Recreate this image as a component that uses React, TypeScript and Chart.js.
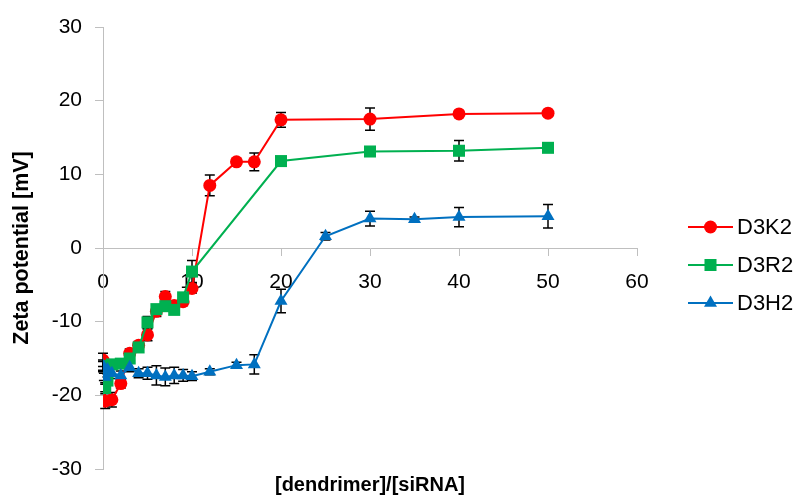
import React, { useEffect, useRef } from "react";
import { Chart, registerables } from "chart.js";

Chart.register(...registerables);

const seriesNames = ["D3K2", "D3R2", "D3H2"];
const seriesColors = ["#ff0000", "#00b050", "#0070c0"];
const seriesMarkers = ["circle", "rect", "triangle"];
const seriesRadius = [6.5, 8.5, 7.5];

const k2X = [0, 0.25, 1, 2, 3, 4, 5, 6, 7, 8, 9, 10, 12, 15, 17, 20, 30, 40, 50];
const k2Y = [-15.2, -20.8, -20.6, -18.4, -14.3, -13.2, -11.8, -8.6, -6.6, -7.8, -7.3, -5.5, 8.5, 11.7, 11.7, 17.4, 17.5, 18.2, 18.3];
const k2Err = [0.9, 1.0, 1.0, 0.6, 0.6, 0.5, 0.8, 0.7, 0.7, 0.5, 0.5, 0.6, 1.4, 0.3, 1.2, 1.0, 1.5, 0.4, 0.3];

const r2X = [0, 0.1, 0.25, 0.5, 1, 2, 3, 4, 5, 6, 7, 8, 9, 10, 20, 30, 40, 50];
const r2Y = [-16.0, -17.5, -19.0, -18.0, -15.8, -15.7, -15.0, -13.5, -10.1, -8.3, -7.9, -8.4, -6.7, -3.2, 11.8, 13.1, 13.2, 13.6];
const r2Err = [0.6, 0.5, 0.5, 0.5, 0.5, 0.6, 0.5, 0.6, 0.8, 0.6, 0.6, 0.5, 0.6, 1.5, 0.5, 0.4, 1.4, 0.3];

const h2X = [0, 0.25, 0.5, 1, 2, 3, 4, 5, 6, 7, 8, 9, 10, 12, 15, 17, 20, 25, 30, 35, 40, 50];
const h2Y = [-16.0, -17.5, -16.5, -17.0, -17.3, -16.2, -17.0, -17.0, -17.3, -17.5, -17.3, -17.3, -17.4, -16.8, -15.9, -15.8, -7.2, 1.6, 4.0, 3.9, 4.2, 4.3];
const h2Err = [0.8, 0.8, 0.6, 0.7, 0.6, 0.6, 0.6, 0.8, 1.3, 1.2, 1.1, 0.8, 0.6, 0.4, 0.4, 1.3, 1.6, 0.5, 1.0, 0.3, 1.3, 1.6];

const xTickValues = [0, 10, 20, 30, 40, 50, 60];
const yTickValues = [-30, -20, -10, 0, 10, 20, 30];

const xTitle = "[dendrimer]/[siRNA]";
const yTitle = "Zeta potential [mV]";

const FONT = "'Liberation Sans', Arial, sans-serif";

function drawMarker(ctx: CanvasRenderingContext2D, style: string, x: number, y: number, r: number, color: string) {
  ctx.fillStyle = color;
  ctx.beginPath();
  if (style === "circle") {
    ctx.arc(x, y, r, 0, Math.PI * 2);
  } else if (style === "rect") {
    const s = r * Math.SQRT1_2;
    ctx.rect(x - s, y - s, 2 * s, 2 * s);
  } else {
    const a = (Math.PI * 2) / 3;
    ctx.moveTo(x, y - r);
    ctx.lineTo(x + Math.sin(a) * r, y - Math.cos(a) * r);
    ctx.lineTo(x + Math.sin(2 * a) * r, y - Math.cos(2 * a) * r);
    ctx.closePath();
  }
  ctx.fill();
}

const errorBarPlugin = {
  id: "errorBars",
  beforeDatasetsDraw(chart: any) {
    const { ctx } = chart;
    const x = chart.scales.x;
    const y = chart.scales.y;
    ctx.save();
    ctx.strokeStyle = "#000";
    ctx.lineWidth = 1.5;
    chart.data.datasets.forEach((ds: any) => {
      ds.data.forEach((p: any, i: number) => {
        const e = ds.errors[i];
        const px = x.getPixelForValue(p.x);
        const top = y.getPixelForValue(p.y + e);
        const bot = y.getPixelForValue(p.y - e);
        ctx.beginPath();
        ctx.moveTo(px, top);
        ctx.lineTo(px, bot);
        ctx.moveTo(px - 5, top);
        ctx.lineTo(px + 5, top);
        ctx.moveTo(px - 5, bot);
        ctx.lineTo(px + 5, bot);
        ctx.stroke();
      });
    });
    ctx.restore();
  },
};

const legendPlugin = {
  id: "customLegend",
  afterDraw(chart: any) {
    const { ctx, chartArea } = chart;
    const x0 = chartArea.right + 51;
    const lineLen = 45;
    const yCenter = 265;
    const gap = 38;
    ctx.save();
    seriesNames.forEach((name, i) => {
      const yy = yCenter + (i - 1) * gap;
      ctx.strokeStyle = seriesColors[i];
      ctx.lineWidth = 2;
      ctx.beginPath();
      ctx.moveTo(x0, yy);
      ctx.lineTo(x0 + lineLen, yy);
      ctx.stroke();
      drawMarker(ctx, seriesMarkers[i], x0 + lineLen / 2, yy, seriesRadius[i], seriesColors[i]);
      ctx.fillStyle = "#000";
      ctx.font = `22px ${FONT}`;
      ctx.textBaseline = "middle";
      ctx.textAlign = "left";
      ctx.fillText(name, x0 + lineLen + 4, yy + 1);
    });
    ctx.restore();
  },
};

function makeData(xs: number[], ys: number[]) {
  return xs.map((v, i) => ({ x: v, y: ys[i] }));
}

export default function App() {
  const canvasRef = useRef<HTMLCanvasElement | null>(null);

  useEffect(() => {
    document.body.style.margin = "0";
    const canvas = canvasRef.current;
    if (!canvas) return;
    const allX = [k2X, r2X, h2X];
    const allY = [k2Y, r2Y, h2Y];
    const allErr = [k2Err, r2Err, h2Err];
    const datasets = seriesNames.map((name, i) => ({
      label: name,
      data: makeData(allX[i], allY[i]),
      errors: allErr[i],
      borderColor: seriesColors[i],
      backgroundColor: seriesColors[i],
      pointBackgroundColor: seriesColors[i],
      pointBorderColor: seriesColors[i],
      pointStyle: seriesMarkers[i],
      pointRadius: seriesRadius[i],
      pointHoverRadius: seriesRadius[i],
      pointBorderWidth: 0,
      borderWidth: 2,
      tension: 0,
      xAxisID: "x",
      yAxisID: "y",
      order: 3 - i,
    }));

    const chart = new Chart(canvas, {
      type: "line",
      data: { datasets: datasets as any },
      options: {
        animation: false,
        responsive: false,
        devicePixelRatio: 1,
        layout: { padding: { top: 27, right: 164, bottom: 0, left: 0 } },
        plugins: { legend: { display: false }, tooltip: { enabled: false } },
        scales: {
          x: {
            type: "linear",
            min: 0,
            max: 60,
            position: { y: 0 } as any,
            afterBuildTicks: (s: any) => {
              s.ticks = xTickValues.map((v) => ({ value: v }));
            },
            grid: { drawOnChartArea: false, color: "#bfbfbf", tickLength: 7 },
            border: { color: "#bfbfbf", width: 1 },
            ticks: { color: "#000", font: { size: 21, family: FONT }, padding: 15, maxRotation: 0 },
          },
          xTitle: {
            type: "linear",
            axis: "x",
            position: "bottom",
            min: 0,
            max: 60,
            grid: { display: false, drawTicks: false },
            border: { display: false },
            ticks: { display: false },
            title: {
              display: true,
              text: xTitle,
              color: "#000",
              font: { size: 20, weight: "bold", family: FONT },
              padding: { top: 0, bottom: 1 },
            },
            afterFit: (s: any) => {
              s.height = 29;
            },
          } as any,
          y: {
            type: "linear",
            min: -30,
            max: 30,
            position: "left",
            afterBuildTicks: (s: any) => {
              s.ticks = yTickValues.map((v) => ({ value: v }));
            },
            grid: { drawOnChartArea: false, color: "#bfbfbf", tickLength: 8 },
            border: { color: "#bfbfbf", width: 1 },
            ticks: { color: "#000", font: { size: 21, family: FONT }, padding: 13 },
            title: {
              display: true,
              text: yTitle,
              color: "#000",
              font: { size: 21.5, weight: "bold", family: FONT },
              padding: { top: 9, bottom: 0 },
            },
            afterFit: (s: any) => {
              s.width = 103;
            },
          },
        },
      },
      plugins: [errorBarPlugin, legendPlugin],
    });
    return () => chart.destroy();
  }, []);

  return (
    <div style={{ width: 801, height: 498, background: "#fff" }}>
      <canvas ref={canvasRef} width={801} height={498} />
    </div>
  );
}
